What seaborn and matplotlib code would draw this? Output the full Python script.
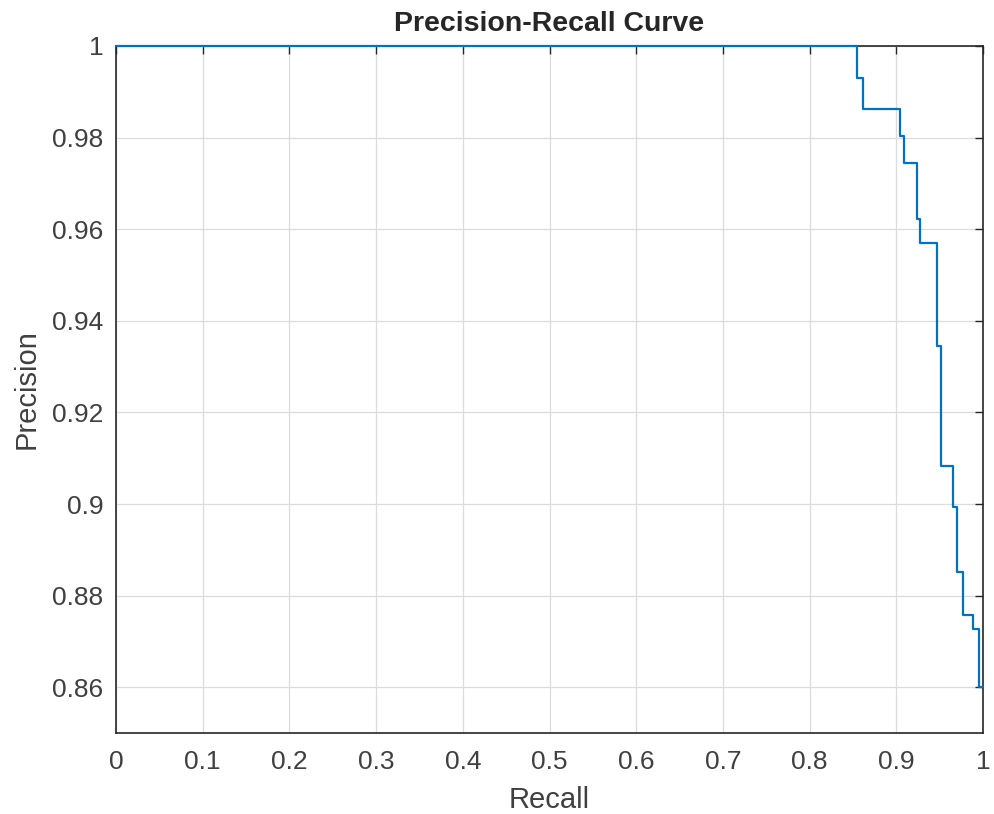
import matplotlib
matplotlib.use("Agg")
import matplotlib.pyplot as plt
import seaborn as sns
import pandas as pd

# step corners (steps-post)
recall = [0.0, 0.855, 0.861, 0.904, 0.909, 0.9235, 0.927, 0.9466, 0.9516,
          0.965, 0.9696, 0.9764, 0.9889, 0.9954, 1.0]
precision = [1.0, 0.993, 0.9862, 0.9803, 0.9744, 0.9623, 0.957, 0.9346, 0.9084,
             0.8993, 0.8851, 0.8758, 0.8727, 0.860, 0.860]

x_ticks = [0, 0.1, 0.2, 0.3, 0.4, 0.5, 0.6, 0.7, 0.8, 0.9, 1]
x_labels = ["0", "0.1", "0.2", "0.3", "0.4", "0.5", "0.6", "0.7", "0.8", "0.9", "1"]
y_ticks = [0.86, 0.88, 0.9, 0.92, 0.94, 0.96, 0.98, 1]
y_labels = ["0.86", "0.88", "0.9", "0.92", "0.94", "0.96", "0.98", "1"]

df = pd.DataFrame({"Recall": recall, "Precision": precision})

sns.set_style("white")
plt.rcParams["font.family"] = ["Liberation Sans", "DejaVu Sans"]

fig = plt.figure(figsize=(9.94, 8.14), dpi=100)
ax = fig.add_axes([0.1167, 0.0995, 0.8723, 0.844])

sns.lineplot(data=df, x="Recall", y="Precision", ax=ax, color="#0072BD",
             linewidth=1.6, drawstyle="steps-post", estimator=None)
for ln in ax.get_lines():
    ln.set_clip_on(False)
    ln.set_zorder(5)

ax.set_xlim(0, 1)
ax.set_ylim(0.85, 1)
ax.set_xticks(x_ticks)
ax.set_xticklabels(x_labels)
ax.set_yticks(y_ticks)
ax.set_yticklabels(y_labels)
ax.grid(True, color="#dcdcdc", linewidth=0.9)
ax.set_axisbelow(True)
for s in ax.spines.values():
    s.set_color("#262626")
    s.set_linewidth(1.2)
    s.set_visible(True)
ax.tick_params(direction="in", length=6, width=1, colors="#262626",
               labelsize=19, top=True, right=True, pad=9)
ax.tick_params(axis="x", pad=12)
for lab in ax.get_xticklabels() + ax.get_yticklabels():
    lab.set_color("#404040")
ax.set_xlabel("Recall", fontsize=21, color="#404040", labelpad=9)
ax.set_ylabel("Precision", fontsize=21, color="#404040", labelpad=8)
ax.set_title("Precision-Recall Curve", fontsize=20.5, fontweight="bold", pad=11)

fig.savefig("out.png", dpi=100)
